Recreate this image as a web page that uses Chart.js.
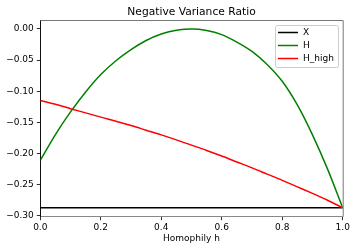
<!DOCTYPE html>
<html>
<head>
<meta charset="utf-8">
<script src="https://cdn.jsdelivr.net/npm/chart.js@4.4.1/dist/chart.umd.min.js"></script>
<style>
  html, body { margin: 0; padding: 0; background: #fff; }
  #wrap { width: 357px; height: 251px; }
</style>
</head>
<body>
<div id="wrap"><canvas id="ratioChart" width="357" height="251"></canvas></div>
<script>
// ==================== DATA ====================
const homophily = [0.00, 0.05, 0.10, 0.15, 0.20, 0.25, 0.30, 0.35, 0.40, 0.45, 0.50,
                   0.55, 0.60, 0.65, 0.70, 0.75, 0.80, 0.85, 0.90, 0.95, 1.00];
const ratioX = [-0.287, -0.287, -0.287, -0.287, -0.287, -0.287, -0.287, -0.287, -0.287, -0.287, -0.287,
                -0.287, -0.287, -0.287, -0.287, -0.287, -0.287, -0.287, -0.287, -0.287, -0.287];
const ratioH = [-0.211, -0.1695, -0.1332, -0.1012, -0.0732, -0.051, -0.033, -0.0185, -0.0082, -0.002, 0.0,
                -0.0023, -0.009, -0.021, -0.036, -0.057, -0.084, -0.122, -0.170, -0.225, -0.287];
const ratioHHigh = [-0.1148, -0.121, -0.128, -0.1347, -0.1415, -0.148, -0.155, -0.1625, -0.170, -0.178, -0.1865,
                    -0.195, -0.204, -0.2135, -0.223, -0.233, -0.243, -0.2535, -0.264, -0.275, -0.287];
const xTicks = [0.0, 0.2, 0.4, 0.6, 0.8, 1.0];
const yTicks = [0.00, -0.05, -0.10, -0.15, -0.20, -0.25, -0.30];
const seriesNames = ['X', 'H', 'H_high'];
const chartTitle = 'Negative Variance Ratio';

// ==================== HELPERS ====================
const FONT = 'DejaVu Sans';

function toPoints(ys) {
    return homophily.map((h, i) => ({x: h, y: ys[i]}));
}

function fmtTick(v, digits) {
    return Number(v).toFixed(digits).replace('-', '\u2212');
}

// title over the axes, top/right spines and legend box like matplotlib
const framePlugin = {
    id: 'frame',
    afterDraw(chart) {
        const {ctx, chartArea: a} = chart;
        ctx.save();
        ctx.fillStyle = '#000';
        ctx.font = '10.7px "' + FONT + '"';
        ctx.textAlign = 'center';
        ctx.textBaseline = 'alphabetic';
        ctx.fillText(chartTitle, (a.left + a.right) / 2, 15);

        ctx.strokeStyle = '#777';
        ctx.lineWidth = 1;
        ctx.beginPath();
        ctx.moveTo(a.left, a.top + 0.5);
        ctx.lineTo(a.right + 0.5, a.top + 0.5);
        ctx.lineTo(a.right + 0.5, a.bottom);
        ctx.stroke();

        // legend
        const bx = 275, by = 25, bw = 63, bh = 42;
        ctx.fillStyle = 'rgba(255,255,255,0.8)';
        ctx.strokeStyle = '#cccccc';
        ctx.beginPath();
        ctx.roundRect(bx + 0.5, by + 0.5, bw, bh, 2);
        ctx.fill();
        ctx.stroke();
        ctx.font = '9px "' + FONT + '"';
        ctx.textBaseline = 'middle';
        ctx.textAlign = 'left';
        chart.data.datasets.forEach((ds, i) => {
            const y = by + 7.5 + i * 13;
            ctx.strokeStyle = ds.borderColor;
            ctx.lineWidth = 1.5;
            ctx.beginPath();
            ctx.moveTo(bx + 3, y);
            ctx.lineTo(bx + 23, y);
            ctx.stroke();
            ctx.fillStyle = '#000';
            ctx.fillText(ds.label, bx + 28, y + 0.5);
        });
        ctx.restore();
    }
};

// ==================== CHART ====================
const colors = ['#000000', '#008000', '#ff0000'];
const series = [ratioX, ratioH, ratioHHigh];

new Chart(document.getElementById('ratioChart'), {
    type: 'line',
    data: {
        datasets: series.map((ys, i) => ({
            label: seriesNames[i],
            data: toPoints(ys),
            borderColor: colors[i],
            borderWidth: 1.5,
            pointRadius: 0,
            tension: 0.4,
            cubicInterpolationMode: 'monotone',
            fill: false,
            order: 3 - i
        }))
    },
    options: {
        responsive: false,
        animation: false,
        layout: {padding: {left: 0, right: 14.3, top: 20, bottom: 0}},
        plugins: {
            legend: {display: false},
            tooltip: {enabled: false},
            title: {display: false}
        },
        scales: {
            x: {
                type: 'linear',
                min: 0,
                max: 1,
                afterFit(scale) { scale.height = 34.3; },
                afterBuildTicks(scale) { scale.ticks = xTicks.map(v => ({value: v})); },
                grid: {drawOnChartArea: false, tickLength: 3.5, tickColor: '#333'},
                border: {color: '#888', width: 1},
                ticks: {
                    color: '#000',
                    padding: 2,
                    maxRotation: 0,
                    font: {family: FONT, size: 9},
                    callback: v => fmtTick(v, 1)
                },
                title: {
                    display: true,
                    text: 'Homophily h',
                    color: '#000',
                    font: {family: FONT, size: 9},
                    padding: {top: 0, bottom: 6.6}
                }
            },
            y: {
                type: 'linear',
                min: -0.3014,
                max: 0.0144,
                afterFit(scale) { scale.width = 40.3; },
                afterBuildTicks(scale) { scale.ticks = yTicks.map(v => ({value: v})); },
                grid: {drawOnChartArea: false, tickLength: 3.5, tickColor: '#333'},
                border: {color: '#111', width: 1},
                ticks: {
                    color: '#000',
                    padding: 3,
                    font: {family: FONT, size: 9},
                    callback: v => fmtTick(v, 2)
                }
            }
        }
    },
    plugins: [framePlugin]
});
</script>
</body>
</html>
